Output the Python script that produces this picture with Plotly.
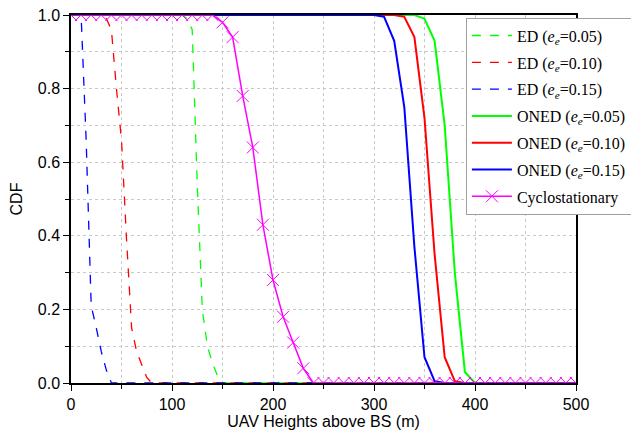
import plotly.graph_objects as go

# ---- data ----
ed05_x = [0, 110, 115, 120, 125, 130, 135, 140, 145, 150, 500]
ed05_y = [1.0, 1.0, 0.99, 0.96, 0.54, 0.20, 0.10, 0.055, 0.02, 0.0, 0.0]

ed10_x = [0, 30, 35, 40, 45, 50, 55, 60, 65, 70, 75, 80, 500]
ed10_y = [1.0, 1.0, 0.99, 0.96, 0.80, 0.66, 0.39, 0.15, 0.085, 0.05, 0.015, 0.0, 0.0]

ed15_x = [0, 10, 15, 20, 25, 30, 35, 40, 500]
ed15_y = [1.0, 1.0, 0.66, 0.21, 0.15, 0.085, 0.035, 0.0, 0.0]

oned_x = list(range(0, 501, 10))
def _oned(vals_from, start):
    ys = []
    for x in oned_x:
        if x < start:
            ys.append(1.0)
        elif (x - start) // 10 < len(vals_from):
            ys.append(vals_from[(x - start) // 10])
        else:
            ys.append(0.0)
    return ys

oned05_drop = [1.0, 0.99, 0.93, 0.70, 0.30, 0.03, 0.0]      # x = 340..400
oned10_drop = [1.0, 0.995, 0.94, 0.72, 0.35, 0.07, 0.005, 0.0]  # x = 320..390
oned15_drop = [1.0, 0.995, 0.93, 0.75, 0.37, 0.07, 0.005, 0.0]  # x = 300..370
oned05_y = _oned(oned05_drop, 340)
oned10_y = _oned(oned10_drop, 320)
oned15_y = _oned(oned15_drop, 300)

cyc_x = list(range(0, 501, 10))
cyc_drop = [0.98, 0.94, 0.78, 0.64, 0.43, 0.28, 0.18, 0.11, 0.04, 0.0]  # x = 150..240
cyc_y = [1.0 if x < 150 else (cyc_drop[(x - 150) // 10] if (x - 150) // 10 < len(cyc_drop) else 0.0) for x in cyc_x]

x_ticks = [0, 100, 200, 300, 400, 500]
y_ticks = [0.0, 0.2, 0.4, 0.6, 0.8, 1.0]
y_tick_text = ["0.0", "0.2", "0.4", "0.6", "0.8", "1.0"]

GREEN, RED, BLUE, MAG = "#00FF00", "#FF0000", "#0000FF", "#FF00FF"

def lbl(name, v):
    return f"{name} (<i>e</i><sub><i>e</i></sub>=0.{v})"

fig = go.Figure()
for nm, xs, ys, col in [(lbl("ED", "05"), ed05_x, ed05_y, GREEN),
                        (lbl("ED", "10"), ed10_x, ed10_y, RED),
                        (lbl("ED", "15"), ed15_x, ed15_y, BLUE)]:
    fig.add_trace(go.Scatter(x=xs, y=ys, mode="lines", name=nm, legendgroup=nm,
                             line=dict(color=col, width=1.3, dash="dash")))
for nm, ys, col in [(lbl("ONED", "05"), oned05_y, GREEN),
                    (lbl("ONED", "10"), oned10_y, RED),
                    (lbl("ONED", "15"), oned15_y, BLUE)]:
    fig.add_trace(go.Scatter(x=oned_x, y=ys, mode="lines", name=nm, legendgroup=nm,
                             line=dict(color=col, width=2)))
fig.add_trace(go.Scatter(x=cyc_x, y=cyc_y, mode="lines+markers", name="Cyclostationary",
                         legendgroup="cyc",
                         line=dict(color=MAG, width=1.5),
                         marker=dict(symbol="x-thin", size=12, color=MAG,
                                     line=dict(color=MAG, width=1))))

axis_common = dict(showline=True, linecolor="black", linewidth=1.5, mirror=True,
                   ticks="outside", tickcolor="black", ticklen=6, tickwidth=1,
                   showgrid=True, gridcolor="#C8C8C8", griddash="dot", gridwidth=1,
                   zeroline=False, automargin=False, ticklabeloverflow="allow",
                   tickfont=dict(family="Liberation Sans, Arial", size=16, color="black"))

fig.update_xaxes(range=[0, 500], tickvals=x_ticks,
                 minor=dict(dtick=50, ticks="outside", ticklen=4, tickcolor="black",
                            showgrid=True, gridcolor="#C8C8C8", griddash="dot"),
                 title=dict(text="UAV Heights above BS (m)", standoff=2,
                            font=dict(family="Liberation Sans, Arial", size=16, color="black")),
                 **axis_common)
fig.update_yaxes(range=[0, 1], tickvals=y_ticks, ticktext=y_tick_text,
                 minor=dict(dtick=0.1, ticks="outside", ticklen=4, tickcolor="black",
                            showgrid=True, gridcolor="#C8C8C8", griddash="dot"),
                 title=dict(text="CDF", standoff=12,
                            font=dict(family="Liberation Sans, Arial", size=16, color="black")),
                 **axis_common)

# page body has an 8px margin, so the figure is sized/offset to compensate
fig.update_layout(
    width=631, height=431,
    margin=dict(l=63, r=61, t=7, b=56),
    paper_bgcolor="white", plot_bgcolor="white",
    showlegend=True,
    legend=dict(x=0.782, y=0.993, xanchor="left", yanchor="top",
                bgcolor="white", bordercolor="#A0A0A0", borderwidth=1,
                font=dict(family="Liberation Serif, Times New Roman", size=16, color="black"),
                itemwidth=40, tracegroupgap=3, traceorder="grouped"),
)

fig.write_html("out.html")
